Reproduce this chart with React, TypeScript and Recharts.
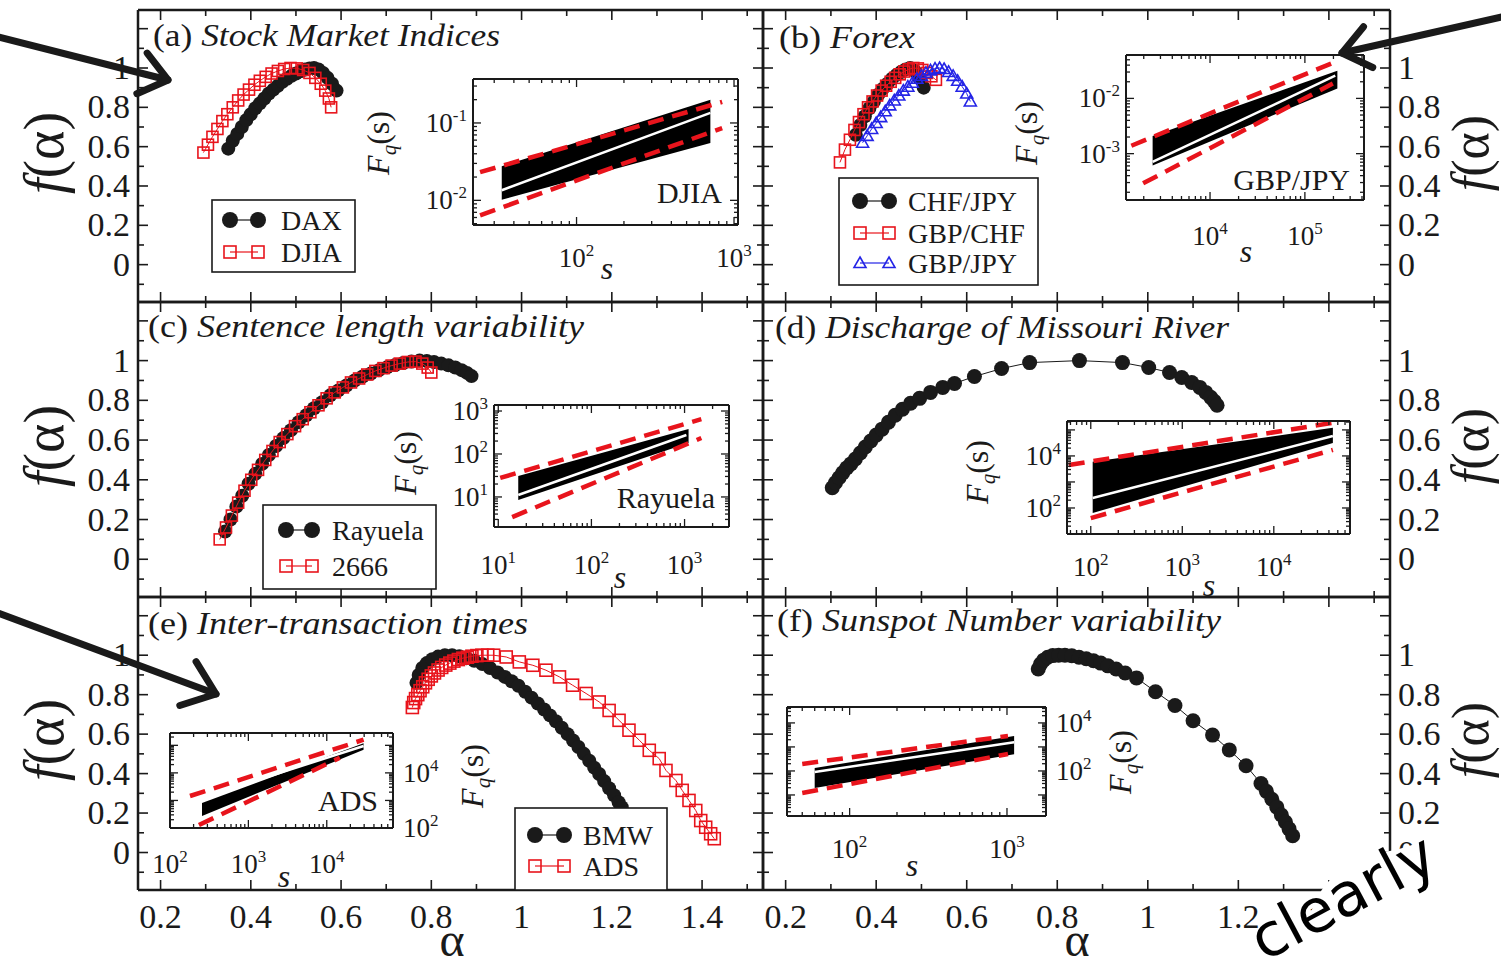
import React from "react";
import { ScatterChart, Scatter, XAxis, YAxis, ComposedChart, Line, Area } from "recharts";

const SERIF = '"Liberation Serif", "Times New Roman", serif';
const INK = "#1a1a1a";
const RED = "#e8141c";
const BLUE = "#2424e6";

// main f(alpha) axes
const ALPHA_DOMAIN = [0.15, 1.535];
const F_DOMAIN = [-0.19, 1.295];
const ALPHA_TICKS = [0.2, 0.3, 0.4, 0.5, 0.6, 0.7, 0.8, 0.9, 1, 1.1, 1.2, 1.3, 1.4, 1.5];
const F_TICKS = [-0.1, 0, 0.1, 0.2, 0.3, 0.4, 0.5, 0.6, 0.7, 0.8, 0.9, 1, 1.1, 1.2];
const ALPHA_LABELS = [0.2, 0.4, 0.6, 0.8, 1, 1.2, 1.4];
const F_LABELS = [0, 0.2, 0.4, 0.6, 0.8, 1];

// (a) stock market indices
const DAX_ALPHA = [0.35, 0.36, 0.37, 0.38, 0.39, 0.4, 0.41, 0.42, 0.43, 0.44, 0.45, 0.46, 0.47, 0.48, 0.49, 0.5, 0.51, 0.52, 0.53, 0.54, 0.55, 0.56, 0.57, 0.58, 0.59];
const DAX_F = [0.59, 0.63, 0.665, 0.7, 0.735, 0.765, 0.795, 0.82, 0.845, 0.87, 0.89, 0.91, 0.93, 0.945, 0.96, 0.972, 0.983, 0.992, 0.998, 1.0, 0.993, 0.975, 0.95, 0.92, 0.885];
const DJIA_ALPHA = [0.295, 0.305, 0.315, 0.326, 0.337, 0.348, 0.36, 0.372, 0.384, 0.396, 0.408, 0.42, 0.433, 0.446, 0.46, 0.474, 0.488, 0.502, 0.516, 0.53, 0.543, 0.555, 0.565, 0.573, 0.578];
const DJIA_F = [0.57, 0.61, 0.65, 0.69, 0.73, 0.765, 0.8, 0.835, 0.865, 0.89, 0.915, 0.935, 0.955, 0.972, 0.985, 0.995, 1.0, 0.998, 0.99, 0.975, 0.95, 0.92, 0.885, 0.845, 0.8];

// (b) forex
const CHFJPY_ALPHA = [0.355, 0.365, 0.375, 0.385, 0.395, 0.405, 0.415, 0.425, 0.435, 0.445, 0.455, 0.465, 0.475, 0.485, 0.495, 0.505];
const CHFJPY_F = [0.66, 0.71, 0.755, 0.795, 0.83, 0.865, 0.895, 0.92, 0.945, 0.965, 0.98, 0.993, 1.0, 0.985, 0.95, 0.9];
const GBPCHF_ALPHA = [0.32, 0.331, 0.342, 0.352, 0.362, 0.372, 0.382, 0.392, 0.402, 0.412, 0.422, 0.432, 0.442, 0.452, 0.462, 0.472, 0.482, 0.492, 0.502, 0.512, 0.522, 0.532];
const GBPCHF_F = [0.52, 0.585, 0.635, 0.685, 0.725, 0.765, 0.8, 0.83, 0.86, 0.885, 0.91, 0.93, 0.95, 0.968, 0.982, 0.993, 1.0, 0.998, 0.99, 0.975, 0.958, 0.94];
const GBPJPY_ALPHA = [0.37, 0.38, 0.39, 0.4, 0.41, 0.42, 0.43, 0.44, 0.45, 0.46, 0.47, 0.48, 0.49, 0.5, 0.51, 0.52, 0.53, 0.54, 0.55, 0.56, 0.57, 0.58, 0.59, 0.6, 0.608];
const GBPJPY_F = [0.62, 0.655, 0.69, 0.72, 0.75, 0.78, 0.81, 0.835, 0.86, 0.885, 0.905, 0.925, 0.945, 0.96, 0.975, 0.988, 0.997, 1.0, 0.995, 0.98, 0.96, 0.935, 0.905, 0.87, 0.83];

// (c) sentence length
const RAYUELA_ALPHA = [0.343, 0.355, 0.368, 0.381, 0.395, 0.41, 0.425, 0.44, 0.456, 0.472, 0.489, 0.506, 0.523, 0.54, 0.558, 0.576, 0.594, 0.612, 0.63, 0.648, 0.666, 0.684, 0.702, 0.72, 0.738, 0.756, 0.774, 0.79, 0.806, 0.822, 0.838, 0.853, 0.867, 0.879, 0.889];
const RAYUELA_F = [0.14, 0.2, 0.265, 0.32, 0.38, 0.43, 0.48, 0.525, 0.57, 0.61, 0.65, 0.69, 0.725, 0.76, 0.79, 0.825, 0.85, 0.875, 0.9, 0.92, 0.935, 0.952, 0.966, 0.978, 0.988, 0.995, 1.0, 0.998, 0.993, 0.985, 0.976, 0.965, 0.952, 0.938, 0.922];
const B2666_ALPHA = [0.331, 0.345, 0.358, 0.372, 0.386, 0.401, 0.416, 0.432, 0.448, 0.464, 0.481, 0.498, 0.515, 0.532, 0.55, 0.568, 0.586, 0.604, 0.622, 0.64, 0.658, 0.676, 0.694, 0.712, 0.73, 0.748, 0.765, 0.78, 0.792, 0.8];
const B2666_F = [0.1, 0.16, 0.22, 0.285, 0.345, 0.4, 0.45, 0.5, 0.545, 0.59, 0.63, 0.67, 0.705, 0.74, 0.775, 0.81, 0.84, 0.865, 0.89, 0.91, 0.93, 0.948, 0.962, 0.975, 0.985, 0.993, 0.995, 0.985, 0.965, 0.94];

// (d) Missouri river
const MO_ALPHA = [0.303, 0.31, 0.318, 0.326, 0.335, 0.344, 0.354, 0.365, 0.376, 0.388, 0.4, 0.413, 0.427, 0.442, 0.458, 0.476, 0.496, 0.52, 0.547, 0.573, 0.617, 0.677, 0.739, 0.849, 0.944, 1.002, 1.048, 1.075, 1.097, 1.115, 1.128, 1.139, 1.147, 1.153];
const MO_F = [0.36, 0.385, 0.41, 0.435, 0.46, 0.48, 0.505, 0.535, 0.565, 0.595, 0.625, 0.655, 0.69, 0.725, 0.755, 0.785, 0.81, 0.84, 0.865, 0.885, 0.92, 0.96, 0.99, 1.0, 0.99, 0.965, 0.94, 0.915, 0.89, 0.865, 0.84, 0.815, 0.795, 0.775];

// (e) inter-transaction times
const BMW_ALPHA = [0.767, 0.772, 0.78, 0.79, 0.802, 0.815, 0.83, 0.846, 0.862, 0.878, 0.895, 0.913, 0.93, 0.947, 0.963, 0.978, 0.993, 1.008, 1.022, 1.036, 1.05, 1.063, 1.076, 1.089, 1.102, 1.114, 1.126, 1.138, 1.15, 1.161, 1.172, 1.183, 1.194, 1.205, 1.215, 1.222];
const BMW_F = [0.86, 0.9, 0.935, 0.96, 0.98, 0.993, 1.0, 1.0, 0.995, 0.985, 0.972, 0.955, 0.935, 0.912, 0.89, 0.868, 0.845, 0.815, 0.785, 0.755, 0.725, 0.695, 0.665, 0.632, 0.6, 0.568, 0.535, 0.5, 0.465, 0.43, 0.398, 0.362, 0.326, 0.29, 0.255, 0.23];
const ADS_ALPHA = [0.758, 0.761, 0.765, 0.77, 0.775, 0.781, 0.787, 0.793, 0.8, 0.807, 0.815, 0.823, 0.832, 0.841, 0.85, 0.86, 0.87, 0.88, 0.89, 0.901, 0.912, 0.925, 0.938, 0.966, 0.995, 1.025, 1.054, 1.084, 1.113, 1.143, 1.172, 1.194, 1.216, 1.238, 1.261, 1.283, 1.305, 1.32, 1.342, 1.356, 1.371, 1.386, 1.397, 1.408, 1.419, 1.427];
const ADS_F = [0.735, 0.76, 0.78, 0.8, 0.82, 0.84, 0.86, 0.878, 0.895, 0.91, 0.925, 0.938, 0.95, 0.96, 0.97, 0.978, 0.985, 0.99, 0.995, 0.998, 1.0, 1.0, 1.0, 0.991, 0.966, 0.949, 0.924, 0.89, 0.848, 0.806, 0.763, 0.72, 0.67, 0.62, 0.569, 0.518, 0.476, 0.416, 0.365, 0.315, 0.264, 0.213, 0.162, 0.128, 0.095, 0.07];

// (f) sunspots
const SUN_ALPHA = [0.758, 0.763, 0.77, 0.779, 0.79, 0.803, 0.817, 0.832, 0.848, 0.864, 0.88, 0.896, 0.912, 0.93, 0.95, 0.975, 1.017, 1.06, 1.1, 1.143, 1.18, 1.217, 1.25, 1.262, 1.274, 1.285, 1.295, 1.304, 1.312, 1.32];
const SUN_F = [0.93, 0.955, 0.975, 0.99, 0.998, 1.0, 1.0, 0.997, 0.99, 0.982, 0.972, 0.96, 0.946, 0.93, 0.91, 0.885, 0.815, 0.745, 0.668, 0.595, 0.52, 0.44, 0.35, 0.31, 0.27, 0.23, 0.19, 0.155, 0.12, 0.085];

// insets: Fq(s) fluctuation functions (log-log)
const A_BAND_S = [33.5, 708];
const A_BAND_LO = [0.0102, 0.055];
const A_BAND_HI = [0.0276, 0.2];
const A_FIT_S = [33.5, 708];
const A_FIT_F = [0.0135, 0.135];
const A_UP_S = [24.4, 841];
const A_UP_F = [0.0231, 0.187];
const A_LO_S = [24.4, 841];
const A_LO_F = [0.0064, 0.086];

const B_BAND_S = [2480, 2.2e5];
const B_BAND_LO = [6.1e-4, 0.0151];
const B_BAND_HI = [0.00209, 0.0316];
const B_FIT_S = [2480, 2.09e5];
const B_FIT_F = [7.1e-4, 0.0257];
const B_UP_S = [1480, 1.97e5];
const B_UP_F = [0.00139, 0.044];
const B_LO_S = [1970, 1.97e5];
const B_LO_F = [2.9e-4, 0.0186];

const C_BAND_S = [16.4, 1104];
const C_BAND_LO = [8.5, 180];
const C_BAND_HI = [30.8, 380];
const C_FIT_S = [16.4, 1047];
const C_FIT_F = [11.1, 276];
const C_UP_S = [10.5, 1514];
const C_UP_F = [27.7, 646];
const C_LO_S = [14.1, 1514];
const C_LO_F = [3.4, 235];

const D_BAND_S = [105, 44200];
const D_BAND_LO = [64, 31600];
const D_BAND_HI = [6000, 1.2e5];
const D_FIT_S = [105, 44200];
const D_FIT_F = [243, 58500];
const D_UP_S = [57.5, 44200];
const D_UP_F = [4500, 1.87e5];
const D_LO_S = [100, 44200];
const D_LO_F = [41, 17000];

const E_BAND_S = [256, 29500];
const E_BAND_LO = [275, 69000];
const E_BAND_HI = [810, 1.2e5];
const E_FIT_S = [256, 29500];
const E_FIT_F = [1230, 95000];
const E_UP_S = [180, 29500];
const E_UP_F = [1450, 1.6e5];
const E_LO_S = [234, 14700];
const E_LO_F = [128, 35500];

const F_BAND_S = [60, 1110];
const F_BAND_LO = [19.6, 490];
const F_BAND_HI = [133, 2870];
const F_FIT_S = [60, 1110];
const F_FIT_F = [91, 1550];
const F_UP_S = [50, 1015];
const F_UP_F = [195, 2870];
const F_LO_S = [50, 1015];
const F_LO_F = [12, 510];

type Mark = "circle" | "square" | "triangle";

const ser = (name: string, alpha: number[], f: number[], mark: Mark, color: string, r: number) => ({
  name,
  mark,
  color,
  r,
  pts: alpha.map((a, i) => ({ a, f: f[i] })),
});

const DAX = ser("DAX", DAX_ALPHA, DAX_F, "circle", INK, 7);
const DJIA = ser("DJIA", DJIA_ALPHA, DJIA_F, "square", RED, 5.5);
const CHFJPY = ser("CHF/JPY", CHFJPY_ALPHA, CHFJPY_F, "circle", INK, 7);
const GBPCHF = ser("GBP/CHF", GBPCHF_ALPHA, GBPCHF_F, "square", RED, 5.5);
const GBPJPY = ser("GBP/JPY", GBPJPY_ALPHA, GBPJPY_F, "triangle", BLUE, 6);
const RAYUELA = ser("Rayuela", RAYUELA_ALPHA, RAYUELA_F, "circle", INK, 7);
const B2666 = ser("2666", B2666_ALPHA, B2666_F, "square", RED, 5.5);
const MISSOURI = ser("Missouri", MO_ALPHA, MO_F, "circle", INK, 7.5);
const BMW = ser("BMW", BMW_ALPHA, BMW_F, "circle", INK, 7);
const ADS = ser("ADS", ADS_ALPHA, ADS_F, "square", RED, 6);
const SUNSPOT = ser("Sunspot", SUN_ALPHA, SUN_F, "circle", INK, 7.5);

const zip = (s: number[], f: number[]) => s.map((v, i) => ({ s: v, F: f[i] }));
const zipBand = (s: number[], lo: number[], hi: number[]) => s.map((v, i) => ({ s: v, r: [lo[i], hi[i]] }));

const near = (list: number[], v: number) => list.some((u) => Math.abs(u - v) < 1e-6);

function markShape(mark: Mark, color: string, r: number) {
  return (props: any) => {
    const { cx, cy } = props;
    if (cx == null || cy == null) return <g />;
    if (mark === "circle") return <circle cx={cx} cy={cy} r={r} fill={color} />;
    if (mark === "square")
      return <rect x={cx - r} y={cy - r} width={2 * r} height={2 * r} fill="none" stroke={color} strokeWidth={1.6} />;
    return (
      <polygon
        points={`${cx},${cy - r} ${cx + r},${cy + r * 0.75} ${cx - r},${cy + r * 0.75}`}
        fill="none"
        stroke={color}
        strokeWidth={1.6}
      />
    );
  };
}

const fmt = (v: number) => String(Math.round(v * 10) / 10);

function mainTick(side: string, L: number, T: number, R: number, B: number, labels: boolean) {
  return (props: any) => {
    const v = props.payload.value;
    const major = Math.abs(Math.round(v * 10)) % 2 === 0;
    const len = major ? 10 : 6;
    const st = { stroke: INK, strokeWidth: 1.6 };
    const txt = { fontFamily: SERIF, fontSize: 34, fill: INK };
    if (side === "bottom" || side === "top") {
      const x = props.x;
      const y0 = side === "bottom" ? B : T;
      const y1 = side === "bottom" ? B - len : T + len;
      return (
        <g>
          <line x1={x} y1={y0} x2={x} y2={y1} {...st} />
          {labels && near(ALPHA_LABELS, v) ? (
            <text x={x} y={B + 38} textAnchor="middle" {...txt}>
              {fmt(v)}
            </text>
          ) : null}
        </g>
      );
    }
    const y = props.y;
    const x0 = side === "left" ? L : R;
    const x1 = side === "left" ? L + len : R - len;
    return (
      <g>
        <line x1={x0} y1={y} x2={x1} y2={y} {...st} />
        {labels && near(F_LABELS, v) ? (
          <text x={side === "left" ? L - 8 : R + 8} y={y + 11} textAnchor={side === "left" ? "end" : "start"} {...txt}>
            {fmt(v)}
          </text>
        ) : null}
      </g>
    );
  };
}

// outer margin around each frame; axes take 1px of it so they still render
const PM = 70;

function PanelChart(p: any) {
  const { x, y, w, h, series, labLeft, labRight, labBottom } = p;
  const L = PM;
  const T = PM;
  const R = PM + w;
  const B = PM + h;
  const axisLine = { stroke: INK, strokeWidth: 2.5 };
  return (
    <div style={{ position: "absolute", left: x - PM, top: y - PM }}>
      <ScatterChart width={w + 2 * PM} height={h + 2 * PM} margin={{ top: PM - 1, right: PM - 1, bottom: PM - 1, left: PM - 1 }}>
        <XAxis xAxisId="b" type="number" dataKey="a" domain={ALPHA_DOMAIN} ticks={ALPHA_TICKS} interval={0} allowDataOverflow height={1} tickLine={false} axisLine={axisLine} tick={mainTick("bottom", L, T, R, B, labBottom)} />
        <XAxis xAxisId="t" orientation="top" type="number" dataKey="a" domain={ALPHA_DOMAIN} ticks={ALPHA_TICKS} interval={0} allowDataOverflow height={1} tickLine={false} axisLine={axisLine} tick={mainTick("top", L, T, R, B, false)} />
        <YAxis yAxisId="l" type="number" dataKey="f" domain={F_DOMAIN} ticks={F_TICKS} interval={0} allowDataOverflow width={1} tickLine={false} axisLine={axisLine} tick={mainTick("left", L, T, R, B, labLeft)} />
        <YAxis yAxisId="r" orientation="right" type="number" dataKey="f" domain={F_DOMAIN} ticks={F_TICKS} interval={0} allowDataOverflow width={1} tickLine={false} axisLine={axisLine} tick={mainTick("right", L, T, R, B, labRight)} />
        {series.map((s: any) => (
          <Scatter
            key={s.name}
            name={s.name}
            data={s.pts}
            xAxisId="b"
            yAxisId="l"
            isAnimationActive={false}
            line={{ stroke: s.color, strokeWidth: 1 }}
            lineType="joint"
            shape={markShape(s.mark, s.color, s.r)}
          />
        ))}
      </ScatterChart>
    </div>
  );
}

// decade and sub-decade tick positions inside a log domain
function logTicks(lo: number, hi: number) {
  const out: number[] = [];
  for (let e = Math.floor(Math.log10(lo)); e <= Math.ceil(Math.log10(hi)); e++) {
    for (let m = 1; m <= 9; m++) {
      const v = m * Math.pow(10, e);
      if (v >= lo * 0.999 && v <= hi * 1.001) out.push(v);
    }
  }
  return out;
}

function Pow10({ exp, ...rest }: any) {
  return (
    <text fontFamily={SERIF} fontSize={27} fill={INK} {...rest}>
      <tspan>10</tspan>
      <tspan dy={-11} fontSize={17}>
        {exp}
      </tspan>
    </text>
  );
}

function insetTick(side: string, L: number, T: number, R: number, B: number, labels: number[], labDy: number) {
  return (props: any) => {
    const v = props.payload.value;
    const lg = Math.log10(v);
    const major = Math.abs(lg - Math.round(lg)) < 1e-6;
    const len = major ? 8 : 4;
    const show = labels.some((u) => Math.abs(Math.log10(u) - lg) < 1e-6);
    const exp = Math.round(lg);
    const st = { stroke: INK, strokeWidth: 1.3 };
    if (side === "bottom" || side === "top") {
      const x = props.x;
      const y0 = side === "bottom" ? B : T;
      const y1 = side === "bottom" ? B - len : T + len;
      return (
        <g>
          <line x1={x} y1={y0} x2={x} y2={y1} {...st} />
          {show ? <Pow10 exp={exp} x={x} y={B + labDy} textAnchor="middle" /> : null}
        </g>
      );
    }
    const y = props.y;
    const x0 = side === "left" ? L : R;
    const x1 = side === "left" ? L + len : R - len;
    return (
      <g>
        <line x1={x0} y1={y} x2={x1} y2={y} {...st} />
        {show ? (
          <Pow10 exp={exp} x={side === "left" ? L - 6 : R + 10} y={y + 9} textAnchor={side === "left" ? "end" : "start"} />
        ) : null}
      </g>
    );
  };
}

function InsetChart(p: any) {
  const { box, sDomain, fDomain, sLabels, fLabels, ySide, xLabDy, band, fit, up, lo } = p;
  const M = 60;
  const L = M;
  const T = M;
  const R = M + box.w;
  const B = M + box.h;
  const sTicks = logTicks(sDomain[0], sDomain[1]);
  const fTicks = logTicks(fDomain[0], fDomain[1]);
  const axisLine = { stroke: INK, strokeWidth: 2 };
  const none: number[] = [];
  return (
    <div style={{ position: "absolute", left: box.x - M, top: box.y - M }}>
      <ComposedChart width={box.w + 2 * M} height={box.h + 2 * M} margin={{ top: M - 1, right: M - 1, bottom: M - 1, left: M - 1 }}>
        <XAxis xAxisId="b" type="number" scale="log" dataKey="s" domain={sDomain} ticks={sTicks} interval={0} allowDataOverflow height={1} tickLine={false} axisLine={axisLine} tick={insetTick("bottom", L, T, R, B, sLabels, xLabDy)} />
        <XAxis xAxisId="t" orientation="top" type="number" scale="log" dataKey="s" domain={sDomain} ticks={sTicks} interval={0} allowDataOverflow height={1} tickLine={false} axisLine={axisLine} tick={insetTick("top", L, T, R, B, none, 0)} />
        <YAxis yAxisId="l" type="number" scale="log" domain={fDomain} ticks={fTicks} interval={0} allowDataOverflow width={1} tickLine={false} axisLine={axisLine} tick={insetTick("left", L, T, R, B, ySide === "left" ? fLabels : none, 0)} />
        <YAxis yAxisId="r" orientation="right" type="number" scale="log" domain={fDomain} ticks={fTicks} interval={0} allowDataOverflow width={1} tickLine={false} axisLine={axisLine} tick={insetTick("right", L, T, R, B, ySide === "right" ? fLabels : none, 0)} />
        <Area xAxisId="b" yAxisId="l" data={band} dataKey="r" type="linear" stroke="none" fill="#000" fillOpacity={1} isAnimationActive={false} />
        <Line xAxisId="b" yAxisId="l" data={fit} dataKey="F" type="linear" stroke="#fff" strokeWidth={2.5} dot={false} isAnimationActive={false} />
        <Line xAxisId="b" yAxisId="l" data={up} dataKey="F" type="linear" stroke={RED} strokeWidth={4.5} strokeDasharray="16 9" dot={false} isAnimationActive={false} />
        <Line xAxisId="b" yAxisId="l" data={lo} dataKey="F" type="linear" stroke={RED} strokeWidth={4.5} strokeDasharray="16 9" dot={false} isAnimationActive={false} />
      </ComposedChart>
    </div>
  );
}

const PANELS = [
  { x: 138, y: 10, w: 625, h: 292, series: [DAX, DJIA], labLeft: true, labRight: false, labBottom: false },
  { x: 763, y: 10, w: 627, h: 292, series: [CHFJPY, GBPCHF, GBPJPY], labLeft: false, labRight: true, labBottom: false },
  { x: 138, y: 302, w: 625, h: 295, series: [RAYUELA, B2666], labLeft: true, labRight: false, labBottom: false },
  { x: 763, y: 302, w: 627, h: 295, series: [MISSOURI], labLeft: false, labRight: true, labBottom: false },
  { x: 138, y: 597, w: 625, h: 293, series: [BMW, ADS], labLeft: true, labRight: false, labBottom: true },
  { x: 763, y: 597, w: 627, h: 293, series: [SUNSPOT], labLeft: false, labRight: true, labBottom: true },
];

const INSETS = [
  {
    box: { x: 473, y: 79, w: 265, h: 146 }, sDomain: [22, 1060], fDomain: [0.0048, 0.37],
    sLabels: [100, 1000], fLabels: [0.01, 0.1], ySide: "left", xLabDy: 42,
    band: zipBand(A_BAND_S, A_BAND_LO, A_BAND_HI), fit: zip(A_FIT_S, A_FIT_F), up: zip(A_UP_S, A_UP_F), lo: zip(A_LO_S, A_LO_F),
  },
  {
    box: { x: 1126, y: 55, w: 238, h: 145 }, sDomain: [1300, 4.2e5], fDomain: [1.45e-4, 0.061],
    sLabels: [1e4, 1e5], fLabels: [0.001, 0.01], ySide: "left", xLabDy: 45,
    band: zipBand(B_BAND_S, B_BAND_LO, B_BAND_HI), fit: zip(B_FIT_S, B_FIT_F), up: zip(B_UP_S, B_UP_F), lo: zip(B_LO_S, B_LO_F),
  },
  {
    box: { x: 494, y: 405, w: 235, h: 122 }, sDomain: [9, 3000], fDomain: [2, 1380],
    sLabels: [10, 100, 1000], fLabels: [10, 100, 1000], ySide: "left", xLabDy: 47,
    band: zipBand(C_BAND_S, C_BAND_LO, C_BAND_HI), fit: zip(C_FIT_S, C_FIT_F), up: zip(C_UP_S, C_UP_F), lo: zip(C_LO_S, C_LO_F),
  },
  {
    box: { x: 1067, y: 421, w: 283, h: 113 }, sDomain: [55, 6.8e4], fDomain: [10, 2.2e5],
    sLabels: [100, 1000, 1e4], fLabels: [100, 1e4], ySide: "left", xLabDy: 42,
    band: zipBand(D_BAND_S, D_BAND_LO, D_BAND_HI), fit: zip(D_FIT_S, D_FIT_F), up: zip(D_UP_S, D_UP_F), lo: zip(D_LO_S, D_LO_F),
  },
  {
    box: { x: 170, y: 733, w: 223, h: 95 }, sDomain: [100, 7e4], fDomain: [100, 2.8e5],
    sLabels: [100, 1000, 1e4], fLabels: [100, 1e4], ySide: "right", xLabDy: 45,
    band: zipBand(E_BAND_S, E_BAND_LO, E_BAND_HI), fit: zip(E_FIT_S, E_FIT_F), up: zip(E_UP_S, E_UP_F), lo: zip(E_LO_S, E_LO_F),
  },
  {
    box: { x: 787, y: 707, w: 259, h: 109 }, sDomain: [40, 1770], fDomain: [1.33, 4.6e4],
    sLabels: [100, 1000], fLabels: [100, 1e4], ySide: "right", xLabDy: 42,
    band: zipBand(F_BAND_S, F_BAND_LO, F_BAND_HI), fit: zip(F_FIT_S, F_FIT_F), up: zip(F_UP_S, F_UP_F), lo: zip(F_LO_S, F_LO_F),
  },
];

const TITLES = [
  { x: 153, y: 46, tag: "(a)", text: "Stock Market Indices", len: 347 },
  { x: 779, y: 48, tag: "(b)", text: "Forex", len: 136 },
  { x: 148, y: 337, tag: "(c)", text: "Sentence length variability", len: 436 },
  { x: 775, y: 338, tag: "(d)", text: "Discharge of Missouri River", len: 454 },
  { x: 148, y: 634, tag: "(e)", text: "Inter-transaction times", len: 380 },
  { x: 777, y: 631, tag: "(f)", text: "Sunspot Number variability", len: 444 },
];

const LEGENDS = [
  { box: [212, 200, 143, 72], series: [DAX, DJIA], ys: [220, 252], sx: [230, 258], tx: 281 },
  { box: [839, 178, 199, 107], series: [CHFJPY, GBPCHF, GBPJPY], ys: [201, 233, 263], sx: [860, 889], tx: 908 },
  { box: [263, 505, 173, 84], series: [RAYUELA, B2666], ys: [530, 566], sx: [286, 312], tx: 332 },
  { box: [515, 808, 152, 82], series: [BMW, ADS], ys: [835, 866], sx: [535, 564], tx: 583 },
];

const FQ_LABELS = [
  [378, 143], [1026, 133], [405, 463], [977, 472], [472, 776], [1120, 762],
];
const S_LABELS = [
  [607, 271], [1246, 254], [620, 580], [1209, 588], [284, 879], [912, 868],
];
const INSET_NAMES = [
  { x: 722, y: 203, text: "DJIA" },
  { x: 1350, y: 190, text: "GBP/JPY" },
  { x: 715, y: 508, text: "Rayuela" },
  { x: 378, y: 811, text: "ADS" },
];
const F_TITLE_Y = [153, 446, 740];

function Arrow({ x1, y1, x2, y2, head = 34, spread = 38 }: any) {
  const th = Math.atan2(y2 - y1, x2 - x1);
  const b1 = th + Math.PI - (spread * Math.PI) / 180;
  const b2 = th + Math.PI + (spread * Math.PI) / 180;
  return (
    <g stroke={INK} strokeWidth={7} strokeLinecap="round" strokeLinejoin="round" fill="none">
      <line x1={x1} y1={y1} x2={x2} y2={y2} />
      <polyline
        points={`${x2 + head * Math.cos(b1)},${y2 + head * Math.sin(b1)} ${x2},${y2} ${x2 + head * Math.cos(b2)},${y2 + head * Math.sin(b2)}`}
      />
    </g>
  );
}

function Overlay() {
  return (
    <svg width={1501} height={969} style={{ position: "absolute", left: 0, top: 0, pointerEvents: "none" }}>
      {TITLES.map((t) => (
        <text key={t.tag} x={t.x} y={t.y} fontFamily={SERIF} fontSize={31} fill={INK} textLength={t.len} lengthAdjust="spacingAndGlyphs">
          {t.tag + " "}
          <tspan fontStyle="italic">{t.text}</tspan>
        </text>
      ))}

      {F_TITLE_Y.map((cy) => (
        <g key={cy}>
          <text transform={`translate(63, ${cy}) rotate(-90)`} textAnchor="middle" fontFamily={SERIF} fontSize={56} fill={INK}>
            <tspan fontStyle="italic">f</tspan>(α)
          </text>
          <text transform={`translate(1488, ${cy}) rotate(-90)`} textAnchor="middle" fontFamily={SERIF} fontSize={52} fill={INK}>
            <tspan fontStyle="italic">f</tspan>(α)
          </text>
        </g>
      ))}
      <text x={452} y={956} textAnchor="middle" fontFamily={SERIF} fontSize={48} fill={INK}>α</text>
      <text x={1077} y={956} textAnchor="middle" fontFamily={SERIF} fontSize={48} fill={INK}>α</text>

      {FQ_LABELS.map(([cx, cy], i) => (
        <text key={i} transform={`translate(${cx + 11}, ${cy}) rotate(-90)`} textAnchor="middle" fontFamily={SERIF} fontSize={32} fill={INK}>
          <tspan fontStyle="italic">F</tspan>
          <tspan fontStyle="italic" fontSize={21} dy={7}>q</tspan>
          <tspan dy={-7}>(s)</tspan>
        </text>
      ))}
      {S_LABELS.map(([cx, cy], i) => (
        <text key={i} x={cx} y={cy + 8} textAnchor="middle" fontFamily={SERIF} fontStyle="italic" fontSize={32} fill={INK}>
          s
        </text>
      ))}
      {INSET_NAMES.map((n) => (
        <text key={n.text} x={n.x} y={n.y} textAnchor="end" fontFamily={SERIF} fontSize={30} fill={INK}>
          {n.text}
        </text>
      ))}

      {LEGENDS.map((lg, i) => (
        <g key={i}>
          <rect x={lg.box[0]} y={lg.box[1]} width={lg.box[2]} height={lg.box[3]} fill="#fff" stroke={INK} strokeWidth={1.6} />
          {lg.series.map((s: any, j: number) => {
            const shape = markShape(s.mark, s.color, s.mark === "circle" ? 8 : 6);
            const y = lg.ys[j];
            return (
              <g key={s.name}>
                <line x1={lg.sx[0]} y1={y} x2={lg.sx[1]} y2={y} stroke={s.color} strokeWidth={1.2} />
                {shape({ cx: lg.sx[0], cy: y })}
                {shape({ cx: lg.sx[1], cy: y })}
                <text x={lg.tx} y={y + 10} fontFamily={SERIF} fontSize={28} fill={INK}>
                  {s.name}
                </text>
              </g>
            );
          })}
        </g>
      ))}

      <Arrow x1={-5} y1={36} x2={168} y2={80} />
      <Arrow x1={1506} y1={16} x2={1342} y2={53} />
      <Arrow x1={-5} y1={612} x2={216} y2={694} head={38} />

      <path d="M 1285 969 L 1314 905 Q 1330 862 1395 850 Q 1445 838 1468 805 L 1501 780 L 1501 969 Z" fill="#fff" />
      <text transform="translate(1264, 962) rotate(-28)" fontFamily='"DejaVu Sans", sans-serif' fontSize={60} fill="#000">
        clearly
      </text>
    </svg>
  );
}

export default function App() {
  return (
    <div
      style={{
        position: "absolute",
        left: 0,
        top: 0,
        width: 1501,
        height: 969,
        overflow: "hidden",
        background: "#fff",
        fontFamily: SERIF,
      }}
    >
      {PANELS.map((p, i) => (
        <PanelChart key={i} {...p} />
      ))}
      {INSETS.map((p, i) => (
        <InsetChart key={i} {...p} />
      ))}
      <Overlay />
    </div>
  );
}
